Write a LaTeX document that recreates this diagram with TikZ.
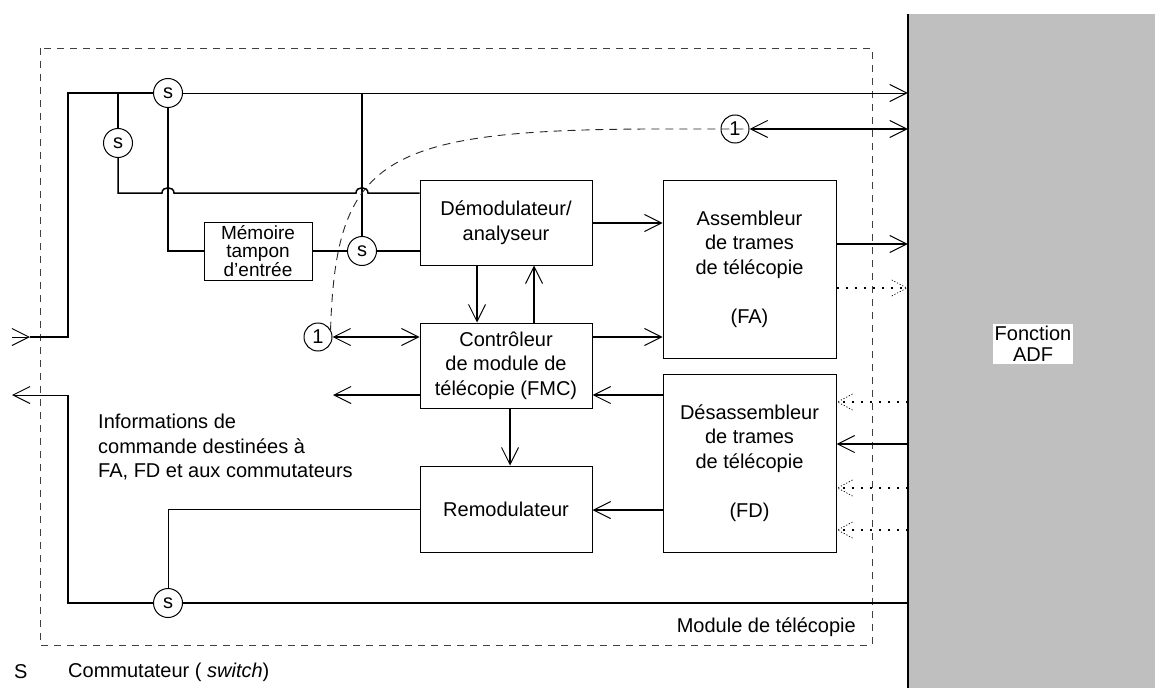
\documentclass[tikz,border=0pt]{standalone}
\usepackage{fontspec}
\setmainfont{Liberation Sans}
\usetikzlibrary{arrows.meta,calc}
\tikzset{
  box/.style={draw, line width=1pt, align=center, inner sep=0pt, font=\fontsize{20}{24.5}\selectfont},
  sw/.style={circle, draw, line width=1pt, fill=white, minimum size=29pt, inner sep=0pt, font=\fontsize{20}{24}\selectfont},
  ring/.style={circle, draw, line width=1pt, minimum size=28pt, inner sep=0pt, font=\fontsize{20}{24}\selectfont},
  conn/.style={line width=1.5pt},
  thinconn/.style={line width=0.9pt},
  arr/.style={-{Straight Barb[length=17pt,width=17pt,line width=1pt]}},
  arrboth/.style={{Straight Barb[length=17pt,width=17pt,line width=1pt]}-{Straight Barb[length=17pt,width=17pt,line width=1pt]}},
  dotline/.style={line width=2pt, dash pattern=on 2pt off 7pt},
  dothead/.pic={\draw[line width=0.7pt, dash pattern=on 1.2pt off 1.8pt] (-15,8) -- (0,0) -- (-15,-8);},
  module/.style={draw=black!75, line width=0.8pt, dash pattern=on 7pt off 6pt},
  ctrlline/.style={draw=black!85, line width=0.9pt, dash pattern=on 8pt off 6pt},
  lbl/.style={font=\fontsize{20}{24.5}\selectfont, inner sep=0pt}
}
\begin{document}
\begin{tikzpicture}[x=1pt,y=-1pt]
\useasboundingbox (0,0) rectangle (1155,695);

% ADF panel
\node[fill=black!25, draw=none, minimum width=247pt, minimum height=674pt, inner sep=0pt] (panel) at (1031.5,351) {};
\draw[line width=2.5pt] (panel.north west) -- (panel.south west);
\node[fill=white, inner sep=2pt, align=center, font=\fontsize{20}{21}\selectfont] (adf) at (1033,344) {Fonction\\ADF};

% module boundary
\draw[module] (40,48) rectangle (872,645);
\node[lbl, anchor=east] (modlbl) at (856,627) {Module de télécopie};

% boxes
\node[box, minimum width=172pt, minimum height=85pt] (demod) at (506,222.5) {Démodulateur/\\analyseur};
\node[box, minimum width=173pt, minimum height=178pt] (asm) at (749.5,269) {Assembleur\\de trames\\de télécopie\\[24.5pt](FA)};
\node[box, minimum width=172pt, minimum height=85pt] (ctrl) at (506,365.5) {Contrôleur\\de module de\\télécopie (FMC)};
\node[box, minimum width=173pt, minimum height=178pt] (dsm) at (749.5,463) {Désassembleur\\de trames\\de télécopie\\[24.5pt](FD)};
\node[box, minimum width=172pt, minimum height=86pt] (remod) at (506,509) {Remodulateur};
\node[box, minimum width=108pt, minimum height=58pt, font=\fontsize{19}{18.5}\selectfont] (mem) at (258,251) {Mémoire\\tampon\\d'entrée};

% switches and connectors
\node[sw] (s1) at (168,93) {s};
\node[sw] (s2) at (118,143) {s};
\node[sw] (s3) at (362,251) {s};
\node[sw] (s4) at (168,603) {s};
\node[ring] (c1) at (318,337) {1};
\node[ring] (c2) at (735,129) {1};

\coordinate (inA) at (12,337);
\coordinate (inB) at (30,337);
\coordinate (outA) at (12,395);
\coordinate (ctrlout) at (333,395);

% input path
\draw[arr, thinconn] (inA) -- (inB);
\draw[conn] (inB) -- (68,337) -- (68,93) -- (s1.west);
\draw[arr, thinconn] (s1.east) -- (panel.west |- 0,93);
\draw[conn] (118,93) -- (s2.north);
\draw[conn] (s2.south) -- (118,193) -- (162,193) .. controls (162,186) and (174,186) .. (174,193) -- (356,193) .. controls (356,186) and (368,186) .. (368,193) -- (demod.west |- 0,193);
\draw[conn] (s1.south) -- (168,251) -- (mem.west |- 0,251);
\draw[conn] (mem.east |- 0,251) -- (s3.west);
\draw[conn] (s3.east) -- (demod.west |- 0,251);
\draw[conn] (362,93) -- (s3.north);

% dashed control line
\draw[ctrlline] (c1.30) .. controls (336,160) and (380,130) .. (650,129) -- (c2.east);
\draw[arrboth, conn] (c2.east) -- (panel.west |- 0,129);
\draw[arrboth, conn] (c1.east) -- (ctrl.west |- 0,337);

% inner arrows
\draw[arr, conn] (demod.east |- 0,223) -- (asm.west |- 0,223);
\draw[arr, conn] (asm.east |- 0,244) -- (panel.west |- 0,244);
\draw[dotline] (asm.east |- 0,288) -- (panel.west |- 0,288);
\pic at ($(panel.west |- 0,288)+(-1,0)$) {dothead};
\draw[arr, conn] (demod.south -| 477,0) -- (ctrl.north -| 477,0);
\draw[arr, conn] (ctrl.north -| 534,0) -- (demod.south -| 534,0);
\draw[arr, conn] (ctrl.east |- 0,337) -- (asm.west |- 0,337);
\draw[arr, conn] (dsm.west |- 0,395) -- (ctrl.east |- 0,395);
\draw[arr, conn] (ctrl.west |- 0,395) -- (ctrlout);
\draw[arr, conn] (ctrl.south -| 510,0) -- (remod.north -| 510,0);
\draw[arr, conn] (dsm.west |- 0,510) -- (remod.east |- 0,510);

% from ADF to disassembler
\draw[dotline] (panel.west |- 0,402) -- (dsm.east |- 0,402);
\pic[rotate=180] at ($(dsm.east |- 0,402)+(1,0)$) {dothead};
\draw[arr, conn] (panel.west |- 0,444) -- (dsm.east |- 0,444);
\draw[dotline] (panel.west |- 0,488) -- (dsm.east |- 0,488);
\pic[rotate=180] at ($(dsm.east |- 0,488)+(1,0)$) {dothead};
\draw[dotline] (panel.west |- 0,530) -- (dsm.east |- 0,530);
\pic[rotate=180] at ($(dsm.east |- 0,530)+(1,0)$) {dothead};

% output path
\draw[thinconn] (remod.west |- 0,509) -- (168,509) -- (s4.north);
\draw[conn] (panel.west |- 0,603) -- (s4.east);
\draw[conn] (s4.west) -- (68,603) -- (68,395);
\draw[arr, thinconn] (68,395) -- (outA);

% labels
\node[lbl, anchor=north west, align=left] (info) at (98,414) {Informations de\\commande destinées à\\FA, FD et aux commutateurs};
\node[lbl, anchor=west] (legS) at (14,672) {S};
\node[lbl, anchor=west] (legT) at (68,672) {Commutateur ( \textit{switch})};
\end{tikzpicture}
\end{document}
